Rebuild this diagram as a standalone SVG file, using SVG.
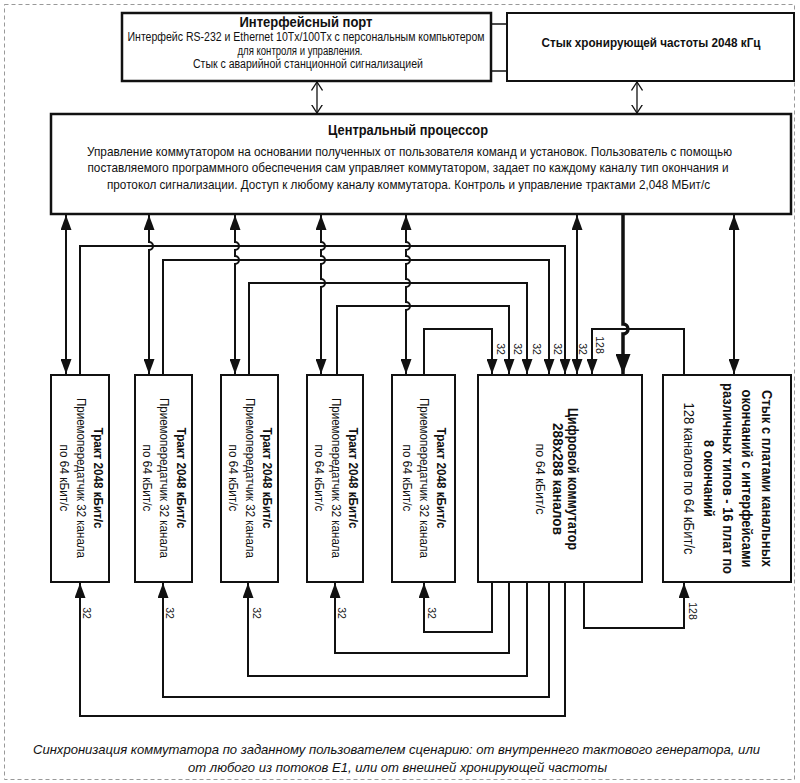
<svg xmlns="http://www.w3.org/2000/svg" width="800" height="783" viewBox="0 0 800 783">
<style>
text{font-family:"Liberation Sans Narrow","Liberation Sans",Arial,sans-serif;fill:#111}
.b{font-weight:bold}
.box{fill:#fff;stroke:#111;stroke-width:2}
.bx2{fill:#fff;stroke:#111;stroke-width:2.5}
.ln{fill:none;stroke:#111;stroke-width:2}
.thin{fill:none;stroke:#111;stroke-width:1.3}
.lbl{font-size:10.5px}
</style>
<defs>
<marker id="ah" viewBox="0 0 15 11" markerWidth="15" markerHeight="11" refX="15" refY="5.5" orient="auto-start-reverse" markerUnits="userSpaceOnUse"><path d="M0,0 L15,5.5 L0,11 z" fill="#111"/></marker>
<marker id="bh" viewBox="0 0 20 15" markerWidth="20" markerHeight="15" refX="20" refY="7.5" orient="auto-start-reverse" markerUnits="userSpaceOnUse"><path d="M0,0 L20,7.5 L0,15 z" fill="#111"/></marker>
<marker id="oa" viewBox="0 0 9 12" markerWidth="9" markerHeight="12" refX="8.5" refY="6" orient="auto-start-reverse" markerUnits="userSpaceOnUse"><path d="M0,0.5 L8.5,6 L0,11.5" fill="none" stroke="#111" stroke-width="1.3"/></marker>
</defs>
<rect x="4.5" y="4.5" width="790" height="775" fill="none" stroke="#999" stroke-width="1" stroke-dasharray="4 3"/>

<g id="connectors">
<path class="thin" d="M491,24 H507 M491,71 H507"/>
<path class="thin" d="M317,82 V113" marker-start="url(#oa)" marker-end="url(#oa)"/>
<path class="thin" d="M637,82 V113" marker-start="url(#oa)" marker-end="url(#oa)"/>
<path class="ln" d="M66,215 V374" marker-start="url(#ah)" marker-end="url(#ah)"/>
<path class="ln" d="M149,215 V242 a4,4 0 0 1 0,8 V374" marker-start="url(#ah)" marker-end="url(#ah)"/>
<path class="ln" d="M235,215 V242 a4,4 0 0 1 0,8 V256 a4,4 0 0 1 0,8 V374" marker-start="url(#ah)" marker-end="url(#ah)"/>
<path class="ln" d="M321,215 V242 a4,4 0 0 1 0,8 V256 a4,4 0 0 1 0,8 V279 a4,4 0 0 1 0,8 V374" marker-start="url(#ah)" marker-end="url(#ah)"/>
<path class="ln" d="M406,215 V242 a4,4 0 0 1 0,8 V256 a4,4 0 0 1 0,8 V279 a4,4 0 0 1 0,8 V302 a4,4 0 0 1 0,8 V374" marker-start="url(#ah)" marker-end="url(#ah)"/>
<path class="ln" d="M577,215 V374" marker-start="url(#ah)" marker-end="url(#ah)"/>
<path class="ln" d="M734,215 V374" marker-start="url(#ah)" marker-end="url(#ah)"/>
<path class="ln" d="M80,375 V246 H565 V374" marker-end="url(#ah)"/>
<path class="ln" d="M163,375 V260 H549 V374" marker-end="url(#ah)"/>
<path class="ln" d="M249,375 V283 H527 V374" marker-end="url(#ah)"/>
<path class="ln" d="M337,375 V306 H509 V374" marker-end="url(#ah)"/>
<path class="ln" d="M424,375 V329 H492 V374" marker-end="url(#ah)"/>
<path class="ln" d="M684,375 V329 H592 V374" marker-end="url(#ah)"/>
<path fill="none" stroke="#111" stroke-width="3.5" d="M623,215 V324 a5,5 0 0 1 0,10 V374" marker-end="url(#bh)"/>
<path class="ln" d="M492,582 V632 H424 V583" marker-end="url(#ah)"/>
<path class="ln" d="M509,582 V653 H335 V583" marker-end="url(#ah)"/>
<path class="ln" d="M527,582 V676 H248 V583" marker-end="url(#ah)"/>
<path class="ln" d="M549,582 V697 H163 V583" marker-end="url(#ah)"/>
<path class="ln" d="M565,582 V716 H80 V583" marker-end="url(#ah)"/>
<path class="ln" d="M584,582 V628 H684 V583" marker-end="url(#ah)"/>
<g class="lbl">
<text transform="translate(501,349) rotate(90)" y="3.6" text-anchor="middle">32</text>
<text transform="translate(518,349) rotate(90)" y="3.6" text-anchor="middle">32</text>
<text transform="translate(537,349) rotate(90)" y="3.6" text-anchor="middle">32</text>
<text transform="translate(558,349) rotate(90)" y="3.6" text-anchor="middle">32</text>
<text transform="translate(583,349) rotate(90)" y="3.6" text-anchor="middle">32</text>
<text transform="translate(600,345) rotate(90)" y="3.6" text-anchor="middle">128</text>
<text transform="translate(87,613) rotate(90)" y="3.6" text-anchor="middle">32</text>
<text transform="translate(170,613) rotate(90)" y="3.6" text-anchor="middle">32</text>
<text transform="translate(257,613) rotate(90)" y="3.6" text-anchor="middle">32</text>
<text transform="translate(342,613) rotate(90)" y="3.6" text-anchor="middle">32</text>
<text transform="translate(432,613) rotate(90)" y="3.6" text-anchor="middle">32</text>
<text transform="translate(693,611) rotate(90)" y="3.6" text-anchor="middle">128</text>
</g>
</g>

<g id="interface-port">
<rect class="bx2" x="122" y="13" width="369" height="68"/>
<text class="b" x="306" y="27" font-size="14.5" text-anchor="middle" textLength="133" lengthAdjust="spacingAndGlyphs">Интерфейсный порт</text>
<text x="306" y="41" font-size="12" text-anchor="middle" textLength="357" lengthAdjust="spacingAndGlyphs">Интерфейс RS-232  и Ethernet 10Tx/100Tx с персональным компьютером</text>
<text x="300" y="55" font-size="12" text-anchor="middle" textLength="125" lengthAdjust="spacingAndGlyphs">для контроля и управления.</text>
<text x="308" y="68" font-size="12" text-anchor="middle" textLength="230" lengthAdjust="spacingAndGlyphs">Стык с аварийной станционной  сигнализацией</text>
</g>

<g id="clock">
<rect class="box" x="507" y="13" width="287" height="68"/>
<text class="b" x="651" y="47" font-size="13.5" text-anchor="middle" textLength="219" lengthAdjust="spacingAndGlyphs">Стык хронирующей частоты 2048 кГц</text>
</g>

<g id="cpu">
<rect class="bx2" x="51" y="114" width="740" height="100"/>
<text class="b" x="408" y="135" font-size="14.5" text-anchor="middle" textLength="160" lengthAdjust="spacingAndGlyphs">Центральный процессор</text>
<text x="409.5" y="156" font-size="13" text-anchor="middle" textLength="645" lengthAdjust="spacingAndGlyphs">Управление коммутатором на основании полученных от пользователя команд и установок. Пользователь с помощью</text>
<text x="408" y="172" font-size="13" text-anchor="middle" textLength="641" lengthAdjust="spacingAndGlyphs">поставляемого программного обеспечения сам управляет коммутатором, задает по каждому каналу тип окончания и</text>
<text x="408.5" y="189" font-size="13" text-anchor="middle" textLength="603" lengthAdjust="spacingAndGlyphs">протокол сигнализации. Доступ к любому каналу коммутатора. Контроль и управление трактами 2,048 МБит/с</text>
</g>

<g id="trakt1">
<rect class="box" x="51" y="375" width="58" height="207"/>
<g transform="translate(80,478) rotate(90)" text-anchor="middle">
<text class="b" y="-13.5" font-size="13.5" textLength="101" lengthAdjust="spacingAndGlyphs">Тракт 2048 кБит/с</text>
<text y="3.5" font-size="13" textLength="160" lengthAdjust="spacingAndGlyphs">Приемопередатчик 32 канала</text>
<text y="20.5" font-size="13" textLength="67" lengthAdjust="spacingAndGlyphs">по 64 кБит/с</text>
</g>
</g>
<g id="trakt2">
<rect class="box" x="135" y="375" width="57" height="207"/>
<g transform="translate(163.5,478) rotate(90)" text-anchor="middle">
<text class="b" y="-13.5" font-size="13.5" textLength="101" lengthAdjust="spacingAndGlyphs">Тракт 2048 кБит/с</text>
<text y="3.5" font-size="13" textLength="160" lengthAdjust="spacingAndGlyphs">Приемопередатчик 32 канала</text>
<text y="20.5" font-size="13" textLength="67" lengthAdjust="spacingAndGlyphs">по 64 кБит/с</text>
</g>
</g>
<g id="trakt3">
<rect class="box" x="221" y="375" width="57" height="207"/>
<g transform="translate(249.5,478) rotate(90)" text-anchor="middle">
<text class="b" y="-13.5" font-size="13.5" textLength="101" lengthAdjust="spacingAndGlyphs">Тракт 2048 кБит/с</text>
<text y="3.5" font-size="13" textLength="160" lengthAdjust="spacingAndGlyphs">Приемопередатчик 32 канала</text>
<text y="20.5" font-size="13" textLength="67" lengthAdjust="spacingAndGlyphs">по 64 кБит/с</text>
</g>
</g>
<g id="trakt4">
<rect class="box" x="307" y="375" width="56" height="207"/>
<g transform="translate(335,478) rotate(90)" text-anchor="middle">
<text class="b" y="-13.5" font-size="13.5" textLength="101" lengthAdjust="spacingAndGlyphs">Тракт 2048 кБит/с</text>
<text y="3.5" font-size="13" textLength="160" lengthAdjust="spacingAndGlyphs">Приемопередатчик 32 канала</text>
<text y="20.5" font-size="13" textLength="67" lengthAdjust="spacingAndGlyphs">по 64 кБит/с</text>
</g>
</g>
<g id="trakt5">
<rect class="box" x="392" y="375" width="63" height="207"/>
<g transform="translate(423.5,478) rotate(90)" text-anchor="middle">
<text class="b" y="-13.5" font-size="13.5" textLength="101" lengthAdjust="spacingAndGlyphs">Тракт 2048 кБит/с</text>
<text y="3.5" font-size="13" textLength="160" lengthAdjust="spacingAndGlyphs">Приемопередатчик 32 канала</text>
<text y="20.5" font-size="13" textLength="67" lengthAdjust="spacingAndGlyphs">по 64 кБит/с</text>
</g>
</g>

<g id="switch">
<rect class="box" x="478" y="375" width="164" height="207"/>
<g transform="translate(560,479) rotate(90)" text-anchor="middle">
<text class="b" y="-8" font-size="14" textLength="142" lengthAdjust="spacingAndGlyphs">Цифровой коммутатор</text>
<text class="b" y="7" font-size="14" textLength="112" lengthAdjust="spacingAndGlyphs">288x288 каналов</text>
<text y="24" font-size="13" textLength="71" lengthAdjust="spacingAndGlyphs">по 64 кБит/с</text>
</g>
</g>

<g id="channel-boards">
<rect class="box" x="663" y="375" width="128" height="207"/>
<g transform="translate(727,478.5) rotate(90)" text-anchor="middle">
<text class="b" y="-35" font-size="14.5" textLength="177" lengthAdjust="spacingAndGlyphs">Стык с платами канальных</text>
<text class="b" y="-15" font-size="14.5" textLength="178" lengthAdjust="spacingAndGlyphs">окончаний  с интерфейсами</text>
<text class="b" y="4" font-size="14.5" textLength="191" lengthAdjust="spacingAndGlyphs">различных типов - 16 плат по</text>
<text class="b" y="23" font-size="14.5" textLength="77" lengthAdjust="spacingAndGlyphs">8 окончаний</text>
<text y="43" font-size="14" textLength="152" lengthAdjust="spacingAndGlyphs">128 каналов по 64 кБит/с</text>
</g>
</g>

<g id="caption" font-style="italic">
<text x="396.5" y="754" font-size="13.5" text-anchor="middle" textLength="727" lengthAdjust="spacingAndGlyphs">Синхронизация коммутатора по заданному пользователем сценарию: от внутреннего тактового генератора, или</text>
<text x="397.5" y="772" font-size="13.5" text-anchor="middle" textLength="419" lengthAdjust="spacingAndGlyphs">от любого из потоков Е1, или от внешней хронирующей частоты</text>
</g>
</svg>
